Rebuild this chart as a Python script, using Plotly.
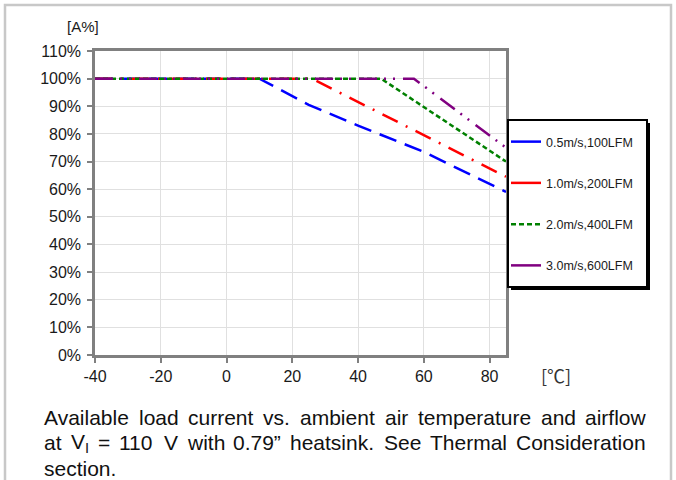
import plotly.graph_objects as go

# --- data ---
temp_05 = [-40, 10, 25, 40, 60, 85]
load_05 = [100, 100, 90.5, 83, 73.5, 59]
temp_10 = [-40, 26, 85]
load_10 = [100, 100, 64.5]
temp_20 = [-40, 47, 85]
load_20 = [100, 100, 70]
temp_30 = [-40, 57, 85]
load_30 = [100, 100, 75]

series_names = ["0.5m/s,100LFM", "1.0m/s,200LFM", "2.0m/s,400LFM", "3.0m/s,600LFM"]
series_colors = ["#0000ff", "#ff0000", "#008000", "#800080"]
series_dash = ["18px,9px", "17px,9px,2px,9px", "5px,3px", "18px,7px,2px,7px,2px,8px"]
legend_dash = ["solid", "solid", "5px,3px", "solid"]

x_ticks = [-40, -20, 0, 20, 40, 60, 80]
x_tick_text = ["-40", "-20", "0", "20", "40", "60", "80"]
y_ticks = list(range(0, 111, 10))
y_tick_text = [f"{v}%" for v in y_ticks]

caption_lines = [
    ["Available", "load", "current", "vs.", "ambient", "air", "temperature", "and", "airflow"],
    ["at", "V<sub>I</sub>", "=", "110", "V", "with", "0.79”", "heatsink.", "See", "Thermal", "Consideration"],
    ["section."],
]

# plot area in pixels (676x480 page)
L, R, T, B = 95, 506, 51, 355


def px(x):
    return (x - L) / (R - L)


def py(y):
    return (B - y) / (B - T)


# Arial advance widths (1/1000 em) to justify the caption by hand
ARIAL = {"A": 667, "a": 556, "b": 556, "c": 500, "d": 556, "e": 556, "f": 278, "h": 556,
         "i": 222, "k": 500, "l": 222, "m": 833, "n": 556, "o": 556, "p": 556, "r": 333,
         "s": 500, "t": 278, "u": 556, "v": 500, "w": 722, "V": 667, "S": 667, "T": 611,
         "C": 722, "=": 584, ".": 278, "”": 333, "I": 278}


def word_width(w, size):
    if w == "V<sub>I</sub>":
        return (667 + 278 * 0.7) * size / 1000
    return sum(ARIAL.get(c, 556) for c in w) * size / 1000


fig = go.Figure()

all_x = [temp_05, temp_10, temp_20, temp_30]
all_y = [load_05, load_10, load_20, load_30]
for i in range(4):
    fig.add_trace(go.Scatter(x=all_x[i], y=all_y[i], mode="lines",
                             line=dict(color=series_colors[i], width=2.5, dash=series_dash[i]),
                             showlegend=False, hoverinfo="skip"))
# legend samples (solid like the original)
for i in range(4):
    fig.add_trace(go.Scatter(x=[None], y=[None], mode="lines", name=series_names[i],
                             legendgroup=f"g{i}",
                             line=dict(color=series_colors[i], width=2.5, dash=legend_dash[i])))

axis_font = dict(family="Arial, Liberation Sans", size=16, color="#1a1a1a")
fig.update_xaxes(range=[-40, 85], tickvals=x_ticks, ticktext=x_tick_text,
                 showgrid=True, gridcolor="#e0e0e0", gridwidth=1,
                 showline=True, linecolor="#808080", linewidth=2.5, mirror=True,
                 ticks="outside", ticklen=5, tickcolor="#808080", tickwidth=1.5,
                 tickfont=axis_font, zeroline=False, ticklabelstandoff=0, automargin=False)
fig.update_yaxes(range=[0, 110], tickvals=y_ticks, ticktext=y_tick_text, showgrid=True,
                 gridcolor="#e0e0e0", gridwidth=1,
                 showline=True, linecolor="#808080", linewidth=2.5, mirror=True,
                 ticks="outside", ticklen=5, tickcolor="#808080", tickwidth=1.5,
                 tickfont=axis_font, zeroline=False, ticklabelstandoff=3, automargin=False)

ann = []
ann.append(dict(text="[A%]", x=px(83), y=py(27), xref="paper", yref="paper", showarrow=False,
                xanchor="center", yanchor="middle",
                font=dict(family="Arial, Liberation Sans", size=15, color="#1a1a1a")))
ann.append(dict(text="[℃]", x=px(556), y=py(375), xref="paper", yref="paper", showarrow=False,
                xanchor="center", yanchor="middle",
                font=dict(family="Noto Sans CJK KR", size=18, color="#333333")))

# caption: justified between x=42 and x=644 (last line left aligned)
cap_size = 21
cap_left, cap_right = 42, 644
cap_y = [417, 442.5, 468]
for k, words in enumerate(caption_lines):
    widths = [word_width(w, cap_size) for w in words]
    if k < len(caption_lines) - 1:
        gap = (cap_right - cap_left - sum(widths)) / (len(words) - 1)
    else:
        gap = cap_size * 0.278
    xpos = cap_left
    for w, wd in zip(words, widths):
        ann.append(dict(text=w, x=px(xpos), y=py(cap_y[k]), xref="paper", yref="paper",
                        showarrow=False, xanchor="left", yanchor="middle",
                        font=dict(family="Arial, Liberation Sans", size=cap_size, color="#111111")))
        xpos += wd + gap

shapes = [
    # outer figure frame
    dict(type="rect", xref="paper", yref="paper", x0=px(5), x1=px(671), y0=py(5), y1=py(495),
         line=dict(color="#c8c8c8", width=2.5)),
    # legend box with drop shadow
    dict(type="rect", xref="paper", yref="paper", x0=px(511), x1=px(650), y0=py(123), y1=py(290),
         fillcolor="black", line=dict(width=0), layer="above"),
    dict(type="rect", xref="paper", yref="paper", x0=px(508), x1=px(647), y0=py(120), y1=py(287),
         fillcolor="white", line=dict(color="black", width=2), layer="above"),
]

fig.update_layout(
    width=676, height=480,
    margin=dict(l=L, r=676 - R, t=T, b=480 - B, autoexpand=False),
    paper_bgcolor="white", plot_bgcolor="white",
    annotations=ann, shapes=shapes,
    legend=dict(x=px(506), y=py(127), xanchor="left", yanchor="top",
                bgcolor="rgba(0,0,0,0)", borderwidth=0,
                font=dict(family="Arial, Liberation Sans", size=12.5, color="#1a1a1a"),
                tracegroupgap=22, itemwidth=30),
)

fig.write_html("out.html", config={"displayModeBar": False},
               post_script="document.body.style.margin='0';document.body.style.overflow='hidden';")
